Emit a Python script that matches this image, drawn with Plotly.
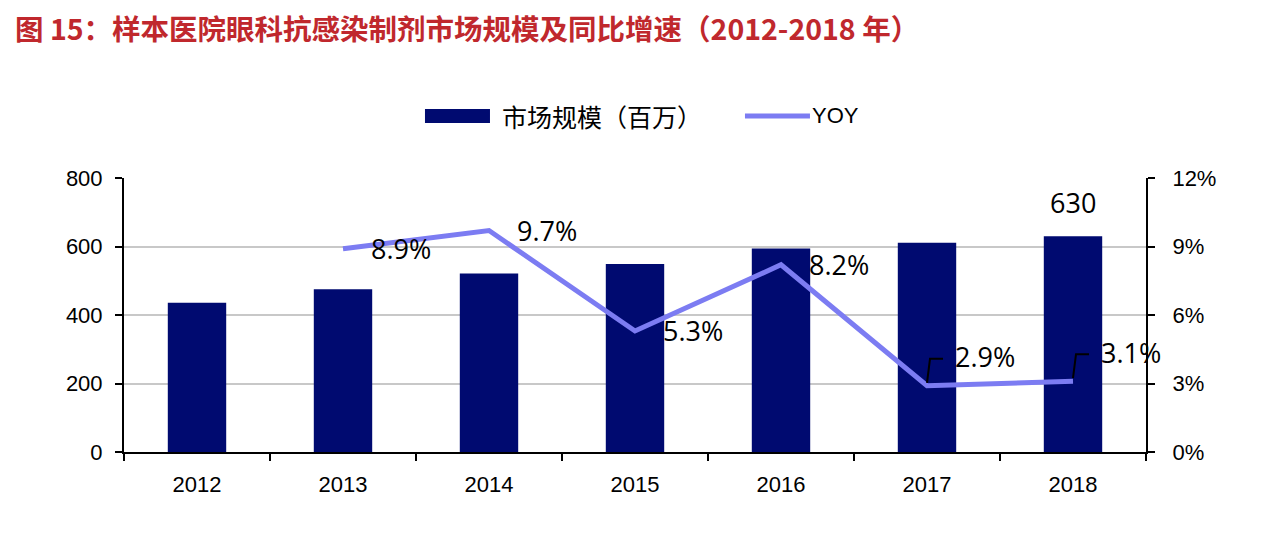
import plotly.graph_objects as go

years = ["2012", "2013", "2014", "2015", "2016", "2017", "2018"]
market = [436, 475, 521, 549, 594, 611, 630]
yoy_years = ["2013", "2014", "2015", "2016", "2017", "2018"]
yoy = [8.9, 9.7, 5.3, 8.2, 2.9, 3.1]
yoy_labels = ["8.9%", "9.7%", "5.3%", "8.2%", "2.9%", "3.1%"]
label_yshift = [0, 0, 0, 0, 29, 29]
leader = [False, False, False, False, True, True]
bar_labels = ["", "", "", "", "", "", "630"]
y2_ticks = [0, 3, 6, 9, 12]

BAR = "#000A70"
LINE = "#7C7CF2"
TICKFONT = dict(family="Liberation Sans, Arial", size=22, color="black")
LABELFONT = dict(family="Open Sans, Noto Sans", size=27, color="black")

fig = go.Figure()
fig.add_trace(go.Bar(
    x=years, y=market, name="市场规模（百万）", marker=dict(color=BAR, line=dict(width=0)),
    yaxis="y", showlegend=False))
fig.add_trace(go.Scatter(
    x=yoy_years, y=yoy, name="YOY", mode="lines", line=dict(color=LINE, width=5),
    yaxis="y2", showlegend=False))

annotations = [dict(
    x=-0.1076, y=1.548, xref="paper", yref="paper", xanchor="left", yanchor="middle",
    text="<b>图 15：样本医院眼科抗感染制剂市场规模及同比增速（2012-2018 年）</b>",
    showarrow=False, borderpad=0,
    font=dict(family="Noto Sans CJK SC", size=28.5, color="#C0282D"))]
shapes = []
for xv, yv, lab, ys, ld in zip(yoy_years, yoy, yoy_labels, label_yshift, leader):
    xi = years.index(xv)
    annotations.append(dict(x=xi, y=yv, xref="x", yref="y2", text=lab, showarrow=False,
                            xanchor="left", yanchor="middle", xshift=26, yshift=ys,
                            font=LABELFONT))
    if ld:
        shapes.append(dict(type="path", xref="x", yref="y2", xsizemode="pixel",
                           ysizemode="pixel", xanchor=xi, yanchor=yv,
                           path="M0,3 L3,27 L16,27", line=dict(color="black", width=2)))
for i, (lab, v) in enumerate(zip(bar_labels, market)):
    if lab:
        annotations.append(dict(x=i, y=v, xref="x", yref="y", text=lab, showarrow=False,
                                xanchor="center", yanchor="bottom", yshift=13,
                                font=LABELFONT))

# manual legend (wide swatches as in the reference)
shapes.append(dict(type="rect", xref="paper", yref="paper", x0=0.2945, x1=0.3581,
                   y0=1.2007, y1=1.2518, fillcolor=BAR, line=dict(width=0)))
shapes.append(dict(type="line", xref="paper", yref="paper", x0=0.6076, x1=0.6712,
                   y0=1.2263, y1=1.2263, line=dict(color=LINE, width=5)))
annotations.append(dict(x=0.3679, y=1.2263, xref="paper", yref="paper", xanchor="left",
                        yanchor="middle", text="市场规模（百万）", showarrow=False,
                        font=dict(family="Noto Sans CJK SC", size=25, color="black")))
annotations.append(dict(x=0.6712, y=1.2263, xref="paper", yref="paper", xanchor="left",
                        yanchor="middle", text="YOY", showarrow=False,
                        font=dict(family="Liberation Sans, Arial", size=22, color="black")))

fig.update_layout(
    width=1272, height=544,
    margin=dict(l=116, r=134, t=170, b=100),
    plot_bgcolor="white", paper_bgcolor="white",
    bargap=0.6,
    showlegend=False,
    xaxis=dict(type="category", range=[-0.5, 6.5], showline=True, linecolor="black",
               linewidth=2, ticks="outside", tickson="boundaries", ticklen=7, tickwidth=2,
               tickcolor="black", tickfont=TICKFONT, showgrid=False, ticklabelstandoff=12,
               tickangle=0),
    yaxis=dict(range=[0, 800], tickvals=[0, 200, 400, 600, 800], showline=True,
               linecolor="black", linewidth=2, ticks="outside", ticklen=7, tickwidth=2,
               tickcolor="black", tickfont=TICKFONT, showgrid=True, gridcolor="#C8C8C8",
               gridwidth=1.5, zeroline=False, ticklabelstandoff=8),
    yaxis2=dict(range=[0, 12], tickvals=y2_ticks, ticktext=[f"{v}%" for v in y2_ticks],
                overlaying="y", side="right", showline=True, linecolor="black",
                linewidth=2, ticks="outside", ticklen=7, tickwidth=2, tickcolor="black",
                tickfont=TICKFONT, showgrid=False, zeroline=False, ticklabelstandoff=13),
    annotations=annotations,
    shapes=shapes,
)

fig.write_html("out.html")
